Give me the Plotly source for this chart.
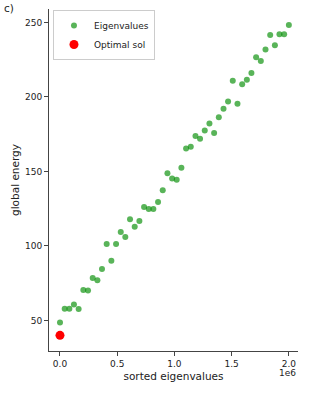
import plotly.graph_objects as go

# sorted eigenvalues (x) and global energy (y)
eig_x = [0, 41000, 82000, 122000, 163000, 204000, 245000, 286000, 327000, 367000,
         408000, 449000, 490000, 531000, 571000, 612000, 653000, 694000, 735000, 776000,
         816000, 857000, 898000, 939000, 980000, 1020000, 1061000, 1102000, 1143000, 1184000,
         1224000, 1265000, 1306000, 1347000, 1388000, 1429000, 1469000, 1510000, 1551000, 1592000,
         1633000, 1673000, 1714000, 1755000, 1796000, 1837000, 1878000, 1918000, 1959000, 2000000]
eig_y = [48.7, 57.9, 57.9, 60.7, 57.7, 70.4, 70.1, 78.5, 76.9, 84.5,
         101.3, 90.1, 101.3, 109.4, 106.0, 117.9, 112.8, 116.8, 126.2, 124.8,
         124.8, 129.5, 137.4, 148.7, 145.2, 144.5, 152.5, 165.4, 166.6, 173.8,
         172.0, 177.4, 182.1, 175.8, 186.3, 192.1, 197.0, 210.9, 195.5, 208.5,
         211.6, 216.1, 226.6, 224.1, 231.9, 241.5, 234.6, 242.0, 242.0, 248.3]
opt_x = [0]
opt_y = [40]

x_tickvals = [0, 500000, 1000000, 1500000, 2000000]
x_ticktext = ["0.0", "0.5", "1.0", "1.5", "2.0"]
y_tickvals = [50, 100, 150, 200, 250]

font_family = "DejaVu Sans"
fig = go.Figure()
fig.add_trace(go.Scatter(x=eig_x, y=eig_y, mode="markers", name="Eigenvalues",
                         marker=dict(color="rgba(0,140,0,0.65)", size=6, line=dict(width=0))))
fig.add_trace(go.Scatter(x=opt_x, y=opt_y, mode="markers", name="Optimal sol",
                         marker=dict(color="red", size=9, line=dict(width=0))))

axis_common = dict(showgrid=False, zeroline=False, showline=True, linecolor="#444", linewidth=1,
                   ticks="outside", ticklen=4, tickcolor="#444", tickwidth=1,
                   tickfont=dict(family=font_family, size=9, color="#222"))
fig.update_xaxes(range=[-96000, 2080000], tickvals=x_tickvals, ticktext=x_ticktext,
                 title=dict(text="sorted eigenvalues", font=dict(family=font_family, size=10.5, color="#222"), standoff=4),
                 **axis_common)
fig.update_yaxes(range=[29.5, 259], tickvals=y_tickvals,
                 title=dict(text="global energy", font=dict(family=font_family, size=10.5, color="#222"), standoff=3),
                 **axis_common)

fig.add_annotation(text="1e6", xref="paper", yref="paper", x=1.0, y=-0.045, xanchor="right", yanchor="top",
                   showarrow=False, font=dict(family=font_family, size=9, color="#222"))
fig.add_annotation(text="c)", xref="paper", yref="paper", x=-0.19, y=1.003, xanchor="left", yanchor="middle",
                   showarrow=False, font=dict(family=font_family, size=10.5, color="#222"))

fig.update_layout(width=309, height=393, margin=dict(l=49, r=11, t=9, b=42),
                  plot_bgcolor="white", paper_bgcolor="white", showlegend=True,
                  legend=dict(x=0.016, y=0.997, xanchor="left", yanchor="top",
                              bgcolor="white", bordercolor="#ccc", borderwidth=1,
                              font=dict(family=font_family, size=9, color="#222"),
                              itemsizing="trace", itemwidth=30, tracegroupgap=0))
fig.write_html("out.html", config={"displayModeBar": False},
               post_script="document.body.style.margin='0';document.body.style.overflow='hidden';")
